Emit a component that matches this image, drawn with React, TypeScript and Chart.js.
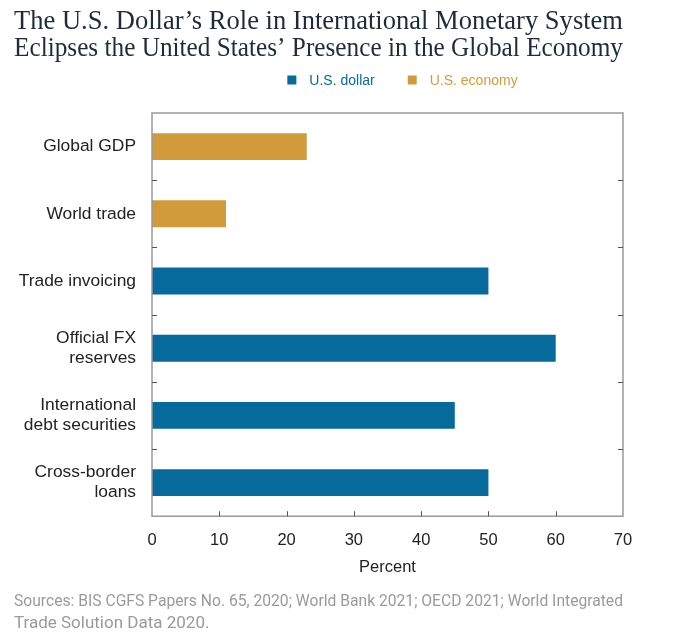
import React, { useEffect, useRef } from "react";
import { Chart, registerables } from "chart.js";

Chart.register(...registerables);

const titleLines = [
  "The U.S. Dollar\u2019s Role in International Monetary System",
  "Eclipses the United States\u2019 Presence in the Global Economy",
];
const categories = [
  ["Global GDP"],
  ["World trade"],
  ["Trade invoicing"],
  ["Official FX", "reserves"],
  ["International", "debt securities"],
  ["Cross-border", "loans"],
];
const seriesNames = ["U.S. dollar", "U.S. economy"];
const dollarValues = [null, null, 50, 60, 45, 50];
const economyValues = [23, 11, null, null, null, null];
const xTicks = [0, 10, 20, 30, 40, 50, 60, 70];
const sourceLines = [
  "Sources: BIS CGFS Papers No. 65, 2020; World Bank 2021; OECD 2021; World Integrated",
  "Trade Solution Data 2020.",
];

const BLUE = "#066a9c";
const GOLD = "#d19b3c";

const framePlugin = {
  id: "frame",
  afterDatasetsDraw(chart: any) {
    const { ctx, chartArea } = chart;
    const { left, right, top, bottom } = chartArea;
    const xs = chart.scales.x;
    const ys = chart.scales.y;
    ctx.save();
    ctx.strokeStyle = "#999";
    ctx.lineWidth = 1.5;
    ctx.strokeRect(left, top, right - left, bottom - top);
    ctx.strokeStyle = "#555";
    ctx.lineWidth = 1;
    ctx.beginPath();
    for (const v of xTicks) {
      if (v === xTicks[0] || v === xTicks[xTicks.length - 1]) continue;
      const x = Math.round(xs.getPixelForValue(v)) + 0.5;
      ctx.moveTo(x, bottom);
      ctx.lineTo(x, bottom - 5);
    }
    for (let i = 0; i < categories.length - 1; i++) {
      const y = Math.round((ys.getPixelForTick(i) + ys.getPixelForTick(i + 1)) / 2) + 0.5;
      ctx.moveTo(left, y);
      ctx.lineTo(left + 5, y);
      ctx.moveTo(right, y);
      ctx.lineTo(right - 5, y);
    }
    ctx.stroke();
    ctx.restore();
  },
};

const legendPlugin = {
  id: "customLegend",
  afterDraw(chart: any) {
    const { ctx, chartArea } = chart;
    const y = chartArea.top - 33;
    ctx.save();
    ctx.font = "14px 'Liberation Sans'";
    ctx.textBaseline = "middle";
    const box = 9;
    const gapBoxText = 13;
    const gapItems = 33;
    const widths = chart.data.datasets.map((d: any) => ctx.measureText(d.label).width);
    let total = 0;
    widths.forEach((w: number, i: number) => {
      total += box + gapBoxText + w + (i < widths.length - 1 ? gapItems : 0);
    });
    let x = (chartArea.left + chartArea.right) / 2 + 15 - total / 2;
    chart.data.datasets.forEach((d: any, i: number) => {
      ctx.fillStyle = d.backgroundColor;
      ctx.fillRect(x, y - box / 2, box, box);
      ctx.fillText(d.label, x + box + gapBoxText, y + 1);
      x += box + gapBoxText + widths[i] + gapItems;
    });
    ctx.restore();
  },
};

export default function App() {
  const ref = useRef<HTMLCanvasElement>(null);
  useEffect(() => {
    if (!ref.current) return;
    const chart = new Chart(ref.current, {
      type: "bar",
      data: {
        labels: categories,
        datasets: [
          {
            label: seriesNames[0],
            data: dollarValues,
            backgroundColor: BLUE,
            grouped: false,
            barPercentage: 0.4,
            categoryPercentage: 1,
          } as any,
          {
            label: seriesNames[1],
            data: economyValues,
            backgroundColor: GOLD,
            grouped: false,
            barPercentage: 0.4,
            categoryPercentage: 1,
          } as any,
        ],
      },
      options: {
        indexAxis: "y",
        animation: false,
        responsive: false,
        layout: { padding: { left: 6, right: 69, top: 0, bottom: -3 } },
        scales: {
          x: {
            min: 0,
            max: 70,
            ticks: {
              stepSize: 10,
              color: "#222",
              font: { family: "Liberation Sans", size: 16.5 },
              padding: 14,
            },
            grid: { display: false, drawTicks: false },
            border: { display: false },
            title: {
              display: true,
              text: "Percent",
              color: "#222",
              font: { family: "Liberation Sans", size: 16.5 },
              padding: { top: 8, bottom: 13 },
            },
            afterFit(scale: any) {
              scale.height -= 14;
            },
          },
          y: {
            ticks: {
              color: "#222",
              font: { family: "Liberation Sans", size: 17.4, lineHeight: 1.16 },
              padding: 16,
            },
            grid: { display: false, drawTicks: false },
            border: { display: false },
            afterFit(scale: any) {
              scale.width = 138;
            },
          },
        },
        plugins: {
          title: {
            display: true,
            text: titleLines,
            align: "start",
            color: "#1e2b3a",
            font: { family: "Liberation Serif", size: 27, weight: "normal", lineHeight: 1.0 },
            padding: { top: 0, bottom: 51 },
          },
          legend: { display: false },
          subtitle: {
            display: true,
            position: "bottom",
            align: "start",
            text: sourceLines,
            color: "#9a9a9a",
            font: { family: "Roboto", size: 17, lineHeight: 1.3 },
            padding: { top: 0, bottom: 0 },
          },
          tooltip: { enabled: false },
        },
      },
      plugins: [framePlugin, legendPlugin],
    });
    return () => chart.destroy();
  }, []);
  return (
    <div style={{ width: 684, height: 624 }}>
      <canvas ref={ref} width={684} height={624} />
    </div>
  );
}
